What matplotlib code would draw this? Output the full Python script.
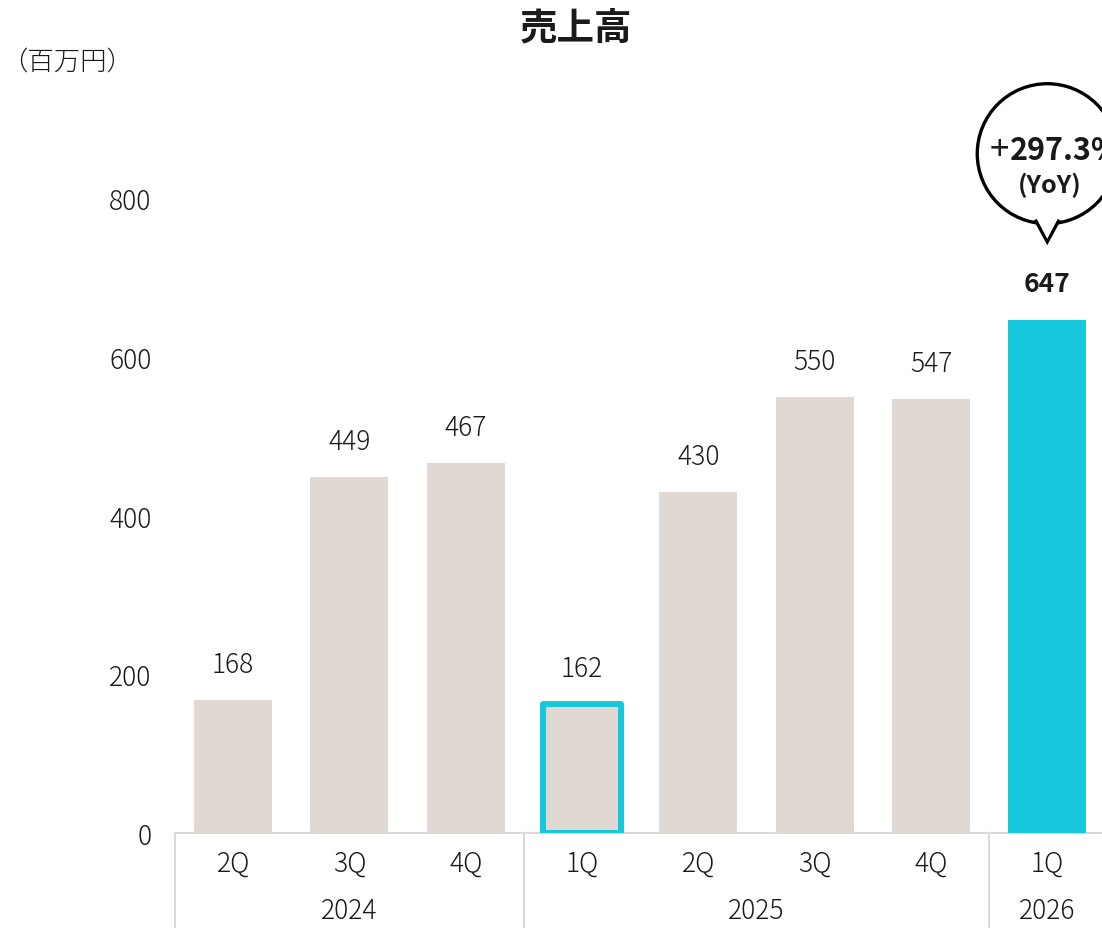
import matplotlib
matplotlib.use("Agg")
import matplotlib.pyplot as plt
import matplotlib.patches as mpatches
import matplotlib.transforms as mtransforms

plt.rcParams['font.family'] = ['Noto Sans CJK JP', 'DejaVu Sans']

quarters = ["2Q", "3Q", "4Q", "1Q", "2Q", "3Q", "4Q", "1Q"]
years = ["2024", "2025", "2026"]
year_groups = [(0, 2), (3, 6), (7, 7)]
values = [168, 449, 467, 162, 430, 550, 547, 647]
yticks = [0, 200, 400, 600, 800]
title = "売上高"
unit = "（百万円）"
yoy_sign = "+"
yoy_text = "297.3%"
yoy_sub = "(YoY)"

BEIGE = "#DFD8D3"
CYAN = "#17C7DC"
TXT = "#1a1a1a"
GRID = "#D9D9D9"
LW = 'light'

W, H = 1102, 929
fig = plt.figure(figsize=(W / 100, H / 100), dpi=100)
ax_left, ax_bottom = 175 / W, (H - 834) / H
ax_w = 930.4 / W
ax_h = 714 / H
ax = fig.add_axes([ax_left, ax_bottom, ax_w, ax_h])

x = list(range(len(values)))
colors = [BEIGE] * len(values)
colors[-1] = CYAN
bars = ax.bar(x, values, width=0.67, color=colors, zorder=2)
hb = bars[3]
hb.set_edgecolor(CYAN)
hb.set_linewidth(4.3)
hb.set_joinstyle('round')
hb.set_zorder(3)

ax.set_xlim(-0.5, len(values) - 0.5)
ax.set_ylim(0, 900)
for s in ["top", "right", "left"]:
    ax.spines[s].set_visible(False)
ax.spines["bottom"].set_color(GRID)
ax.spines["bottom"].set_linewidth(1.5)
ax.spines["bottom"].set_zorder(1)

ax.set_yticks(yticks)
ax.set_yticklabels([str(v) for v in yticks], fontsize=19, color=TXT, fontweight=LW)
ax.tick_params(axis='y', length=0, pad=17)
ax.set_xticks(x)
ax.set_xticklabels(quarters, fontsize=19, color=TXT, fontweight=LW)
ax.tick_params(axis='x', length=0, pad=11)

for i, v in enumerate(values):
    last = i == len(values) - 1
    ax.annotate(str(v), xy=(i, v), xytext=(0, 36), textcoords='offset pixels',
                ha='center', va='center', fontsize=19, color=TXT,
                fontweight='bold' if last else LW)

xt = ax.get_xaxis_transform()
bottom_ax = -0.15
for (a, b), yr in zip(year_groups, years):
    ax.plot([a - 0.5, a - 0.5], [0, bottom_ax], transform=xt, color=GRID,
            lw=1.5, clip_on=False)
    ax.annotate(yr, xy=((a + b) / 2, 0), xycoords=('data', 'axes fraction'),
                xytext=(0, -77), textcoords='offset pixels', ha='center',
                va='center', fontsize=19, color=TXT, fontweight=LW)

fig.text(576 / W, 1 - 28 / H, title, ha='center', va='center', fontsize=27,
         fontweight='bold', color=TXT)
fig.text(0.001, 1 - 62 / H, unit, ha='left', va='center', fontsize=19,
         color=TXT, fontweight=LW)

# speech bubble anchored to the last bar
anchor = mtransforms.ScaledTranslation(len(values) - 1, values[-1], ax.transData)
cy = 166
r = 70
circ = mpatches.Circle((0, cy), r, transform=anchor, facecolor='white',
                       edgecolor='black', lw=2.4, clip_on=False, zorder=5)
ax.add_artist(circ)
tail = mpatches.Polygon([(-12, cy - r + 4), (0, cy - r - 18), (12, cy - r + 4)],
                        closed=False, transform=anchor, facecolor='white',
                        edgecolor='black', lw=2.4, clip_on=False, zorder=6,
                        joinstyle='miter')
ax.add_artist(tail)
cover = mpatches.Polygon([(-10.5, cy - r + 6), (0, cy - r - 15), (10.5, cy - r + 6)],
                         closed=True, transform=anchor, facecolor='white',
                         edgecolor='none', clip_on=False, zorder=7)
ax.add_artist(cover)
ax.annotate(yoy_sign, xy=(len(values) - 1, values[-1]), xytext=(-48, cy + 4),
            textcoords='offset pixels', ha='center', va='center', fontsize=25,
            fontweight='normal', color=TXT, zorder=8, annotation_clip=False)
ax.annotate(yoy_text, xy=(len(values) - 1, values[-1]), xytext=(-37, cy + 4),
            textcoords='offset pixels', ha='left', va='center', fontsize=22,
            fontweight='bold', color=TXT, zorder=8, annotation_clip=False)
ax.annotate(yoy_sub, xy=(len(values) - 1, values[-1]), xytext=(2, cy - 31),
            textcoords='offset pixels', ha='center', va='center', fontsize=18,
            fontweight='bold', color=TXT, zorder=8, annotation_clip=False)

fig.savefig("out.png", dpi=100)
